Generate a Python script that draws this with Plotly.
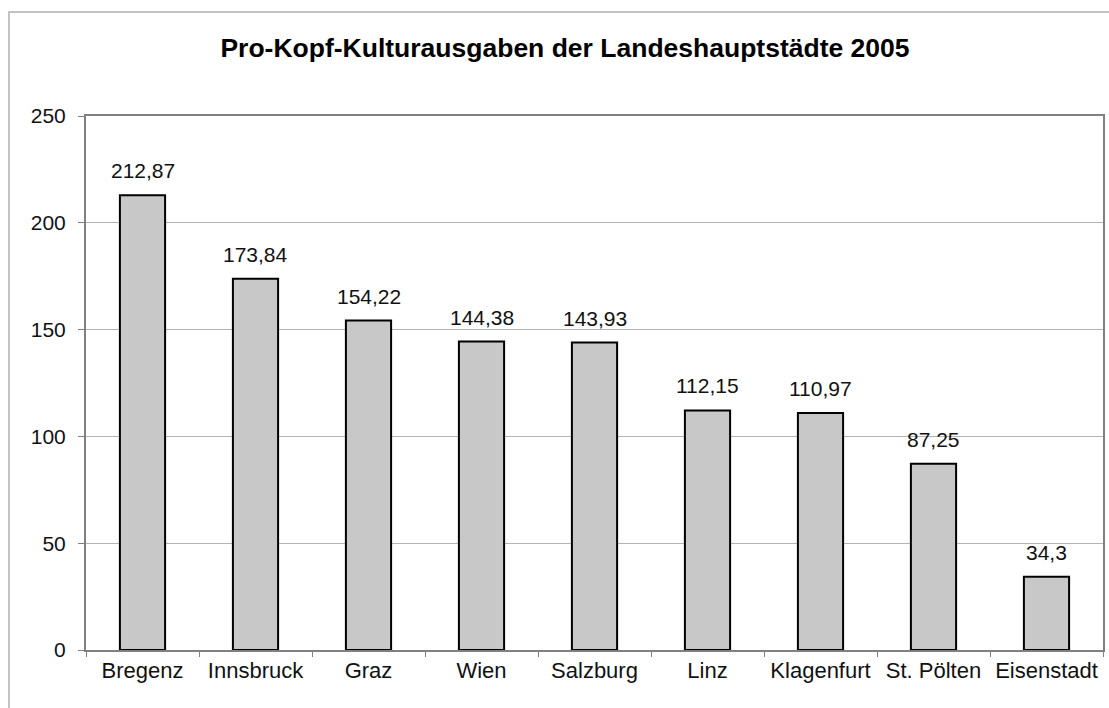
import plotly.graph_objects as go

cities = ["Bregenz", "Innsbruck", "Graz", "Wien", "Salzburg", "Linz",
          "Klagenfurt", "St. Pölten", "Eisenstadt"]
values = [212.87, 173.84, 154.22, 144.38, 143.93, 112.15, 110.97, 87.25, 34.3]
y_ticks = [0, 50, 100, 150, 200, 250]
title = "Pro-Kopf-Kulturausgaben der Landeshauptstädte 2005"

labels = [f"{v:g}".replace(".", ",") for v in values]

W, H = 1109, 708
ml, mr, mt, mb = 86, 6, 116, 58
pw, ph = W - ml - mr, H - mt - mb

fig = go.Figure()
fig.add_trace(go.Bar(
    x=cities, y=values, width=0.4,
    marker=dict(color="#c8c8c8", line=dict(color="#000000", width=2)),
    hoverinfo="x+y",
))

for c, v, t in zip(cities, values, labels):
    fig.add_annotation(x=c, y=v, text=t, showarrow=False, yanchor="bottom",
                       yshift=11, font=dict(family="Liberation Sans, Arial", size=21, color="#111"))

# outer chart border
fig.add_shape(type="rect", xref="paper", yref="paper",
              x0=(9 - ml) / pw, x1=(W + 5 - ml) / pw,
              y0=-(H + 5 - mt - ph) / ph, y1=(H - mb - 12) / ph,
              line=dict(color="#b0b0b0", width=1.5), layer="below")

fig.update_layout(
    width=W, height=H,
    margin=dict(l=ml, r=mr, t=mt, b=mb),
    paper_bgcolor="white", plot_bgcolor="white",
    title=dict(text="<b>" + title + "</b>", x=565 / W, xanchor="center",
               y=1 - 48 / H, yanchor="middle",
               font=dict(family="Liberation Sans, Arial", size=26.5, color="#000")),
    font=dict(family="Liberation Sans, Arial", size=21, color="#111"),
    showlegend=False,
    bargap=0.6,
    xaxis=dict(showline=True, linecolor="#808080", linewidth=1.5, mirror=True,
               ticks="outside", tickson="boundaries", ticklen=5, tickcolor="#808080",
               showgrid=False, tickfont=dict(size=22), automargin=False),
    yaxis=dict(range=[0, 250], tickvals=y_ticks, showline=True, linecolor="#808080",
               linewidth=2, mirror=True, ticks="outside", ticklen=6, tickcolor="#808080",
               showgrid=True, gridcolor="#b4b4b4", gridwidth=1, zeroline=False,
               tickfont=dict(size=21), ticklabelstandoff=8, automargin=False),
)

fig.write_html("out.html", config={"displayModeBar": False},
               post_script="document.body.style.margin='0';document.body.style.overflow='hidden';")
